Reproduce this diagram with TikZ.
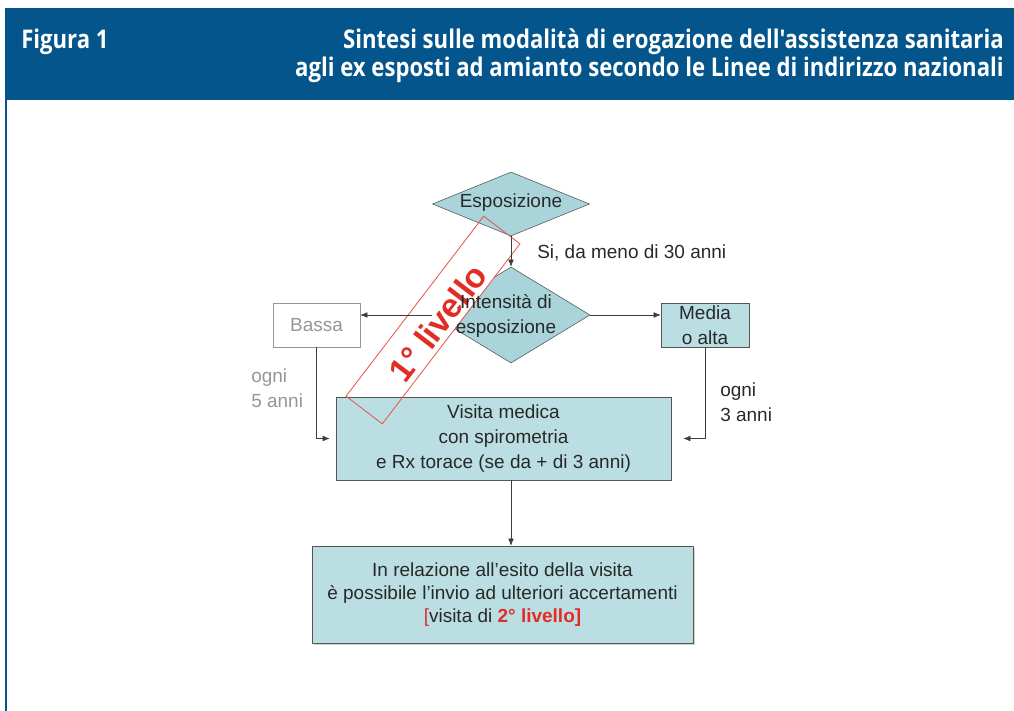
\documentclass[tikz,border=0pt]{standalone}
\usepackage{fontspec}
\setmainfont{Liberation Sans}
\newfontfamily\headfont[FakeStretch=0.86]{Open Sans}
\usetikzlibrary{shapes.geometric,arrows.meta,shadows}

\newcommand{\diagfont}{\fontsize{13.5}{17.5}\selectfont}
\newcommand{\titlefont}{\headfont\bfseries\fontsize{18.3}{20}\selectfont}

\begin{document}
\begin{tikzpicture}[x=0.025cm,y=-0.025cm,
    decision/.style={diamond, draw=linegray, fill=diamondfill, inner sep=0pt},
    stepbox/.style={rectangle, draw=linegray, fill=boxfill, inner sep=0pt,
        align=center, font=\diagfont, text=textgray},
    diagtext/.style={inner sep=0pt, align=center, font=\diagfont, text=textgray},
    headtext/.style={inner sep=0pt, font=\titlefont, text=white},
    flow/.style={draw=arrowgray, -{Latex[length=5pt,width=4pt]}}]
        % Define colors
        \definecolor{headblue}{RGB}{3,85,139}
        \definecolor{diamondfill}{RGB}{168,212,218}
        \definecolor{boxfill}{RGB}{186,222,226}
        \definecolor{linegray}{RGB}{85,85,85}
        \definecolor{arrowgray}{RGB}{60,60,60}
        \definecolor{textgray}{RGB}{40,40,40}
        \definecolor{softgray}{RGB}{150,150,150}
        \definecolor{levelred}{RGB}{225,45,35}

        \useasboundingbox (0,0) rectangle (1014,711);

        % Header
        \fill[headblue] (5,8) rectangle (1014,100);
        \draw[headblue, line width=1pt] (6,100) -- (6,711);
        \node[headtext, anchor=west] (fig) at (21,42) {Figura 1};
        \node[headtext, anchor=east, align=right] (title) at (1004,56)
            {Sintesi sulle modalità di erogazione dell'assistenza sanitaria\\
             agli ex esposti ad amianto secondo le Linee di indirizzo nazionali};

        % Decisions
        \node[decision, minimum width=3.95cm, minimum height=2.4cm] (int) at (511,315) {};
        \node[fill=white, minimum width=5.65cm, minimum height=1.125cm, rotate=52.6,
            inner sep=0pt] (band) at (433,320) {};
        \node[decision, minimum width=3.925cm, minimum height=1.6cm] (esp) at (511,204) {};

        % Boxes
        \node[stepbox, fill=white, draw=softgray, text=softgray,
            minimum width=2.175cm, minimum height=1.1cm] (bassa) at (316.5,325) {Bassa};
        \node[stepbox, minimum width=2.2cm, minimum height=1.1cm] (media) at (705,325)
            {Media\\o alta};
        \node[stepbox, minimum width=8.375cm, minimum height=2.075cm,
            font=\fontsize{13.5}{18}\selectfont] (visita) at (503.5,438.5)
            {Visita medica\\con spirometria\\e Rx torace (se da + di 3 anni)};
        \node[stepbox, minimum width=9.525cm, minimum height=2.425cm,
            font=\fontsize{13.5}{16.5}\selectfont,
            drop shadow={shadow xshift=1.5pt, shadow yshift=-1.5pt, opacity=0.35}] (esito) at (502.5,594.5)
            {In relazione all'esito della visita\\
             è possibile l'invio ad ulteriori accertamenti\\
             {\color{levelred}[}visita di {\color{levelred}\bfseries 2° livello]}};

        % 1° livello band
        \draw[levelred!80, line width=0.6pt] (band.north west) -- (band.north east)
            -- (band.south east) -- (band.south west) -- cycle;
        \node[rotate=52.6, text=levelred, font=\bfseries\fontsize{24}{24}\selectfont,
            inner sep=0pt] (level) at (438,323) {1° livello};

        % Texts of the decisions
        \node[diagtext] (esptext) at (511,203) {Esposizione};
        \node[diagtext] (inttext) at (506,316) {Intensità di\\esposizione};

        % Connectors
        \draw[flow] (esp.south) -- (int.north);
        \draw[flow] (int.west) -- (int.west -| bassa.east);
        \draw[flow] (int.east) -- (int.east -| media.west);
        \draw[flow, shorten >=0.15cm] (bassa.south) |- (visita.west);
        \draw[flow, shorten >=0.3cm] (media.south) |- (visita.east);
        \draw[flow] (visita.south -| esp.south) -- (esito.north -| esp.south);

        % Labels
        \node[diagtext, anchor=west] (silabel) at (537,253) {Si, da meno di 30 anni};
        \node[diagtext, anchor=west, align=left, text=softgray] (ogni5) at (251,388)
            {ogni\\5 anni};
        \node[diagtext, anchor=west, align=left] (ogni3) at (720,402) {ogni\\3 anni};

    \end{tikzpicture}
\end{document}
